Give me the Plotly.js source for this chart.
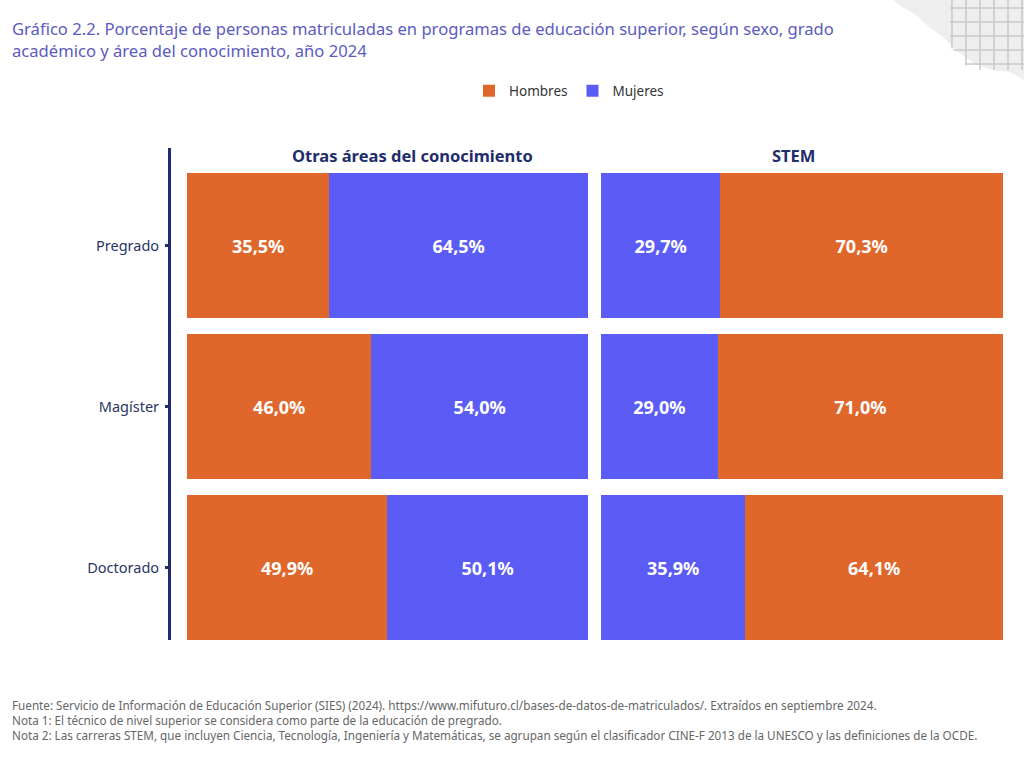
<!DOCTYPE html>
<html>
<head>
<meta charset="utf-8">
<script src="https://cdn.plot.ly/plotly-3.0.1.min.js"></script>
<style>
  body { margin: 0; background: #ffffff; }
  #plotDiv { width: 1024px; height: 758px; }
</style>
</head>
<body>
<div id="plotDiv"></div>
<script>
'use strict';

// grados academicos, de arriba hacia abajo
const grados = ['Pregrado', 'Magíster', 'Doctorado'];

// porcentajes por area y sexo
const otrasHombres = [35.5, 46.0, 49.9];
const otrasMujeres = [64.5, 54.0, 50.1];
const stemMujeres = [29.7, 29.0, 35.9];
const stemHombres = [70.3, 71.0, 64.1];

const areas = ['Otras áreas del conocimiento', 'STEM'];

const colorHombres = '#E0672C';
const colorMujeres = '#5B5CF5';
const navy = '#1F2D6B';

// margenes del area de dibujo, en pixeles
const W = 1024, H = 758;
const mL = 169, mR = 21, mT = 148, mB = 118;
function px(p) { return (p - mL) / (W - mL - mR); }
function py(q) { return (H - mB - q) / (H - mT - mB); }

function barTrace(name, values, color, axis, showlegend) {
    return {
        type: 'bar',
        orientation: 'h',
        name: name,
        legendgroup: name,
        showlegend: showlegend,
        y: grados,
        x: values,
        xaxis: axis,
        yaxis: 'y',
        marker: { color: color, line: { width: 0 } },
        texttemplate: '%{x:.1f}%',
        textposition: 'inside',
        insidetextanchor: 'middle',
        textfont: { family: 'Noto Sans', size: 18, color: '#ffffff', weight: 'bold' },
        hoverinfo: 'skip'
    };
}

var data = [
    barTrace('Hombres', otrasHombres, colorHombres, 'x', true),
    barTrace('Mujeres', otrasMujeres, colorMujeres, 'x', true),
    barTrace('Mujeres', stemMujeres, colorMujeres, 'x2', false),
    barTrace('Hombres', stemHombres, colorHombres, 'x2', false)
];

// hoja con cuadricula en la esquina superior derecha
var shapes = [{
    type: 'path', xref: 'paper', yref: 'paper', layer: 'below',
    path: 'M' + px(893) + ',' + py(0) +
          ' L' + px(902) + ',' + py(7) +
          ' L' + px(915) + ',' + py(14) +
          ' L' + px(928) + ',' + py(26) +
          ' L' + px(944) + ',' + py(38) +
          ' L' + px(958) + ',' + py(52) +
          ' L' + px(975) + ',' + py(64) +
          ' L' + px(992) + ',' + py(70) +
          ' L' + px(1010) + ',' + py(72) +
          ' L' + px(1024) + ',' + py(80) +
          ' L' + px(1024) + ',' + py(0) + ' Z',
    fillcolor: '#EEEEEE', line: { width: 0 }
}];
[952, 966, 980, 994, 1008, 1022].forEach(function (gx) {
    var yEnd = Math.min(70, (gx - 920) * 1.2 + 10);
    shapes.push({
        type: 'line', xref: 'paper', yref: 'paper', layer: 'below',
        x0: px(gx), x1: px(gx), y0: py(0), y1: py(yEnd),
        line: { color: '#C8C8C8', width: 1.5 }
    });
});
[8, 22, 36, 50, 64].forEach(function (gy) {
    var xStart = Math.max(950, 920 + (gy - 10) / 1.2);
    shapes.push({
        type: 'line', xref: 'paper', yref: 'paper', layer: 'below',
        x0: px(xStart), x1: px(1024), y0: py(gy), y1: py(gy),
        line: { color: '#C8C8C8', width: 1.5 }
    });
});

const d1 = [px(187), px(588)];
const d2 = [px(601), px(1003)];

var annotations = [
    {
        text: areas[0], xref: 'paper', yref: 'paper',
        x: px(412), y: py(155), xanchor: 'center', yanchor: 'middle', showarrow: false,
        font: { family: 'Noto Sans', size: 16.5, color: navy, weight: 'bold' }
    },
    {
        text: areas[1], xref: 'paper', yref: 'paper',
        x: px(793), y: py(155), xanchor: 'center', yanchor: 'middle', showarrow: false,
        font: { family: 'Noto Sans', size: 16.5, color: navy, weight: 'bold' }
    },
    {
        text: 'Gráfico 2.2. Porcentaje de personas matriculadas en programas de educación superior, según sexo, grado<br>académico y área del conocimiento, año 2024',
        xref: 'paper', yref: 'paper', x: px(10), y: py(15), xanchor: 'left', yanchor: 'top',
        align: 'left', showarrow: false,
        font: { family: 'Noto Sans', size: 16.6, color: '#5B5BC0' }
    },
    {
        text: 'Fuente: Servicio de Información de Educación Superior (SIES) (2024). https://www.mifuturo.cl/bases-de-datos-de-matriculados/. Extraídos en septiembre 2024.<br>' +
              'Nota 1: El técnico de nivel superior se considera como parte de la educación de pregrado.<br>' +
              'Nota 2: Las carreras STEM, que incluyen Ciencia, Tecnología, Ingeniería y Matemáticas, se agrupan según el clasificador CINE-F 2013 de la UNESCO y las definiciones de la OCDE.',
        xref: 'paper', yref: 'paper', x: px(10), y: py(695), xanchor: 'left', yanchor: 'top',
        align: 'left', showarrow: false,
        font: { family: 'Noto Sans', size: 11.7, color: '#666666' }
    }
];

var layout = {
    width: W,
    height: H,
    margin: { l: mL, r: mR, t: mT, b: mB, pad: 0 },
    paper_bgcolor: '#ffffff',
    plot_bgcolor: '#ffffff',
    separators: ',.',
    barmode: 'stack',
    bargap: 0.1,
    font: { family: 'Noto Sans', color: navy },
    showlegend: true,
    legend: {
        orientation: 'h',
        x: px(569), xanchor: 'center',
        y: py(91), yanchor: 'middle',
        font: { family: 'Noto Sans', size: 13.5, color: '#333333' },
        traceorder: 'normal'
    },
    xaxis: {
        domain: d1, range: [0, 100], anchor: 'y',
        showgrid: false, zeroline: false, showticklabels: false, fixedrange: true
    },
    xaxis2: {
        domain: d2, range: [0, 100], anchor: 'y',
        showgrid: false, zeroline: false, showticklabels: false, fixedrange: true
    },
    yaxis: {
        type: 'category',
        categoryorder: 'array',
        categoryarray: grados,
        range: [2.45, -0.606],
        anchor: 'free', position: 0,
        showgrid: false, zeroline: false,
        showline: true, linecolor: navy, linewidth: 2.5,
        ticks: 'outside', ticklen: 3, tickwidth: 2.5, tickcolor: navy,
        ticklabelstandoff: 3,
        tickfont: { family: 'Noto Sans', size: 14.5, color: '#2A3566' },
        fixedrange: true
    },
    shapes: shapes,
    annotations: annotations
};

Plotly.newPlot('plotDiv', data, layout, { displayModeBar: false, staticPlot: true });
</script>
</body>
</html>
